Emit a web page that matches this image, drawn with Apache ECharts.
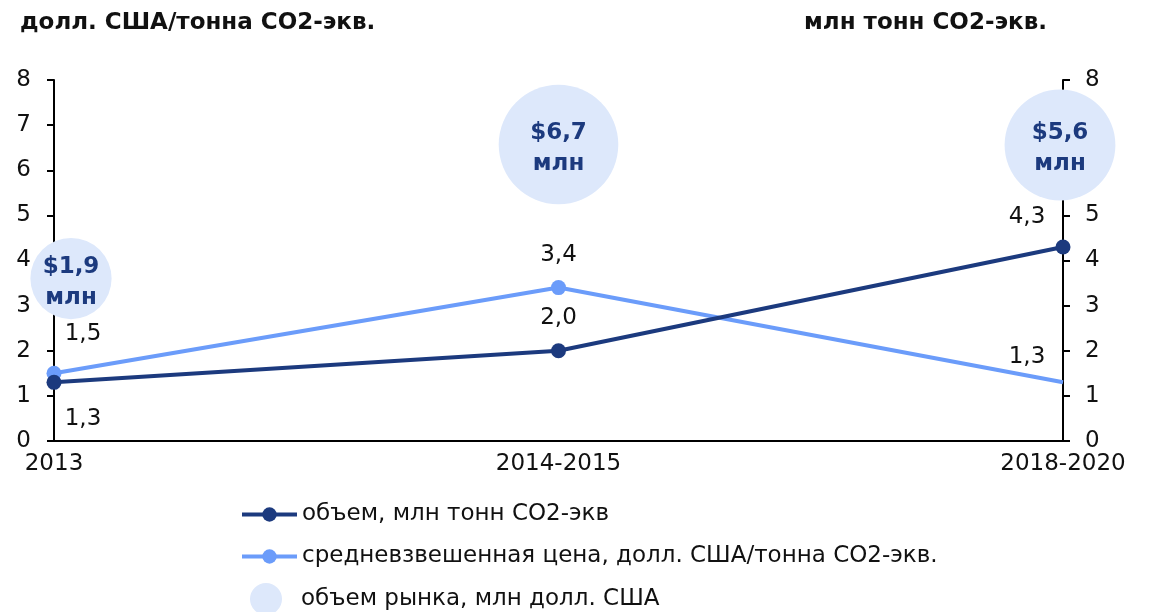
<!DOCTYPE html>
<html>
<head>
<meta charset="utf-8">
<script src="https://cdn.jsdelivr.net/npm/echarts@6/dist/echarts.min.js"></script>
<style>
  html, body { margin: 0; padding: 0; background: #fff; }
  #chart { width: 1150px; height: 612px; }
</style>
</head>
<body>
<div id="chart"></div>
<script>
const categories = ['2013', '2014-2015', '2018-2020']
const volume = [1.3, 2.0, 4.3]        // млн тонн CO2-экв
const price = [1.5, 3.4, 1.3]         // долл. США/тонна
const marketSize = [1.9, 6.7, 5.6]    // млн долл. США

const NAVY = '#1c3a7e'
const LIGHT = '#6b9cfa'
const BUBBLE = '#dde8fb'
const FONT = 'DejaVu Sans'

const fmt = v => v.toFixed(1).replace('.', ',')

// where the bubbles sit (layout only)
const bubbleLevel = [3.6, 6.57, 6.56]
const bubbleShift = [17, 0, -3]

const chart = echarts.init(document.getElementById('chart'))

const axisCommon = {
    type: 'value',
    min: 0,
    max: 8,
    interval: 1,
    splitLine: {show: false},
    axisLine: {show: true, lineStyle: {color: '#000', width: 2}},
    axisTick: {show: true, length: 7, lineStyle: {color: '#000', width: 2}},
}

chart.setOption({
    animation: false,
    textStyle: {fontFamily: FONT},
    title: [
        {
            text: 'долл. США/тонна CO2-экв.',
            left: 15, top: 7,
            textStyle: {fontFamily: FONT, fontSize: 23, fontWeight: 'bold', color: '#111'}
        },
        {
            text: 'млн тонн CO2-экв.',
            right: 98, top: 7,
            textStyle: {fontFamily: FONT, fontSize: 23, fontWeight: 'bold', color: '#111'}
        }
    ],
    grid: {left: 54, right: 87, top: 80, bottom: 171, containLabel: false},
    legend: [
        {
            data: ['объем, млн тонн CO2-экв', 'средневзвешенная цена, долл. США/тонна CO2-экв.'],
            orient: 'vertical',
            left: 235, top: 498,
            itemWidth: 55, itemHeight: 18, itemGap: 19,
            lineStyle: {width: 4},
            textStyle: {fontFamily: FONT, fontSize: 23, color: '#111'}
        },
        {
            data: ['объем рынка, млн долл. США'],
            left: 245, top: 578,
            itemWidth: 32, itemHeight: 32,
            textStyle: {fontFamily: FONT, fontSize: 23, color: '#111', padding: [0, 0, 0, 14]}
        }
    ],
    xAxis: {
        type: 'category',
        data: categories,
        boundaryGap: false,
        axisLine: {lineStyle: {color: '#000', width: 2}},
        axisTick: {show: false},
        axisLabel: {color: '#111', fontSize: 23, fontFamily: FONT, margin: 12}
    },
    yAxis: [
        Object.assign({}, axisCommon, {
            position: 'left',
            axisLabel: {color: '#111', fontSize: 23, fontFamily: FONT, margin: 23}
        }),
        Object.assign({}, axisCommon, {
            position: 'right',
            axisLabel: {color: '#111', fontSize: 23, fontFamily: FONT, margin: 22}
        })
    ],
    series: [
        {
            name: 'объем рынка, млн долл. США',
            type: 'scatter',
            z: 2,
            symbolSize: v => 66 + 8 * v[2],
            itemStyle: {color: BUBBLE, opacity: 1},
            label: {
                show: true,
                position: 'inside',
                offset: [0, 4],
                formatter: p => '$' + fmt(p.value[2]) + '\nмлн',
                color: NAVY,
                fontWeight: 'bold',
                fontSize: 23,
                lineHeight: 31,
                fontFamily: FONT
            },
            data: marketSize.map((v, i) => ({
                value: [categories[i], bubbleLevel[i], v],
                symbolOffset: [bubbleShift[i], 0]
            }))
        },
        {
            name: 'средневзвешенная цена, долл. США/тонна CO2-экв.',
            type: 'line',
            z: 3,
            symbol: 'circle',
            symbolSize: 15,
            color: LIGHT,
            lineStyle: {width: 4, color: LIGHT},
            label: {show: true, position: 'top', distance: 14, color: '#111', fontSize: 23, formatter: p => fmt(p.value)},
            data: price.map((v, i) => {
                const d = {value: v}
                if (i === 0) d.label = {offset: [29, -6]}
                if (i === 2) {
                    d.symbolSize = 0.01
                    d.label = {offset: [-36, 0]}
                }
                return d
            })
        },
        {
            name: 'объем, млн тонн CO2-экв',
            type: 'line',
            yAxisIndex: 1,
            z: 4,
            symbol: 'circle',
            symbolSize: 15,
            color: NAVY,
            lineStyle: {width: 4, color: NAVY},
            label: {show: true, position: 'top', distance: 14, color: '#111', fontSize: 23, formatter: p => fmt(p.value)},
            data: volume.map((v, i) => {
                const d = {value: v}
                if (i === 0) d.label = {position: 'bottom', offset: [29, 4]}
                if (i === 2) d.label = {offset: [-36, 3]}
                return d
            })
        }
    ]
})
</script>
</body>
</html>
